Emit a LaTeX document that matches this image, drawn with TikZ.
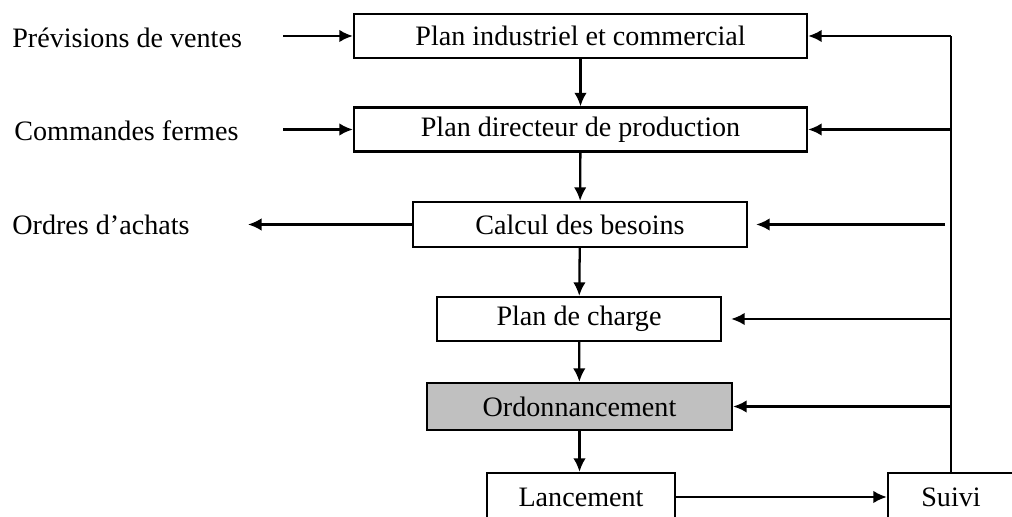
\documentclass[tikz,border=0pt]{standalone}
\usepackage{fontspec}
\setmainfont{Liberation Serif}
\usepackage{xcolor}
\definecolor{ordoFill}{RGB}{192,192,192}
\usepackage{tikz}
\usetikzlibrary{arrows.meta,positioning,calc}
\tikzstyle{etape}=[draw, line width=1.3pt, minimum height=0.88cm, inner sep=0pt, font=\fontsize{16}{18}\selectfont]
\tikzstyle{entree}=[anchor=west, inner sep=0pt, font=\fontsize{16}{18}\selectfont]
\tikzstyle{fleche}=[-{Latex[length=0.27cm,width=0.25cm]}, line width=1.3pt]

\begin{document}
\begin{tikzpicture}
        \clip (0,0) rectangle (20.24,10.34);
        % etapes du plan
        \node[etape, minimum width=9.06cm] (pic) at (11.61,9.62) {Plan industriel et commercial};
        \node[etape, minimum width=9.06cm] (pdp) at (11.61,7.75) {Plan directeur de production};
        \node[etape, minimum width=6.68cm, minimum height=0.9cm] (cbn) at (11.60,5.85) {Calcul des besoins};
        \node[etape, minimum width=5.68cm] (charge) at (11.58,3.96) {Plan de charge};
        \node[etape, fill=ordoFill, minimum width=6.1cm, minimum height=0.94cm]
          (ordo) at (11.59,2.21) {Ordonnancement};
        \node[etape, minimum width=3.76cm, minimum height=0.96cm] (lance) at (11.62,0.40) {Lancement};
        \node[etape, minimum width=2.52cm, minimum height=0.96cm] (suivi) at (19.02,0.40) {Suivi};
        % entrees et sorties
        \node[entree] (prev) at (0.24,9.58) {Prévisions de ventes};
        \node[entree] (cmd) at (0.28,7.72) {Commandes fermes};
        \node[entree] (achats) at (0.24,5.84) {Ordres d’achats};
        \coordinate (prevA) at (5.66,9.62);
        \coordinate (cmdA) at (5.66,7.75);
        \coordinate (achatsA) at (4.96,5.85);
        \draw[fleche] (prevA) -- (pic.west);
        \draw[fleche] (cmdA) -- (pdp.west);
        \draw[fleche] (cbn.west) -- (achatsA);
        % enchainement
        \draw[fleche] (pic) -- (pdp);
        \draw[fleche] (pdp) -- (cbn);
        \draw[fleche] (cbn) -- (charge);
        \draw[fleche] (charge) -- (ordo);
        \draw[fleche] (ordo) -- (lance.north -| ordo.south);
        \draw[fleche] (lance) -- (suivi);
        % retour du suivi
        \draw[line width=1.3pt] (suivi.north) -- (suivi.north |- pic.east);
        \draw[fleche] (suivi.north |- pic.east) -- (pic.east);
        \draw[fleche] (suivi.north |- pdp.east) -- (pdp.east);
        \draw[fleche, shorten <=0.12cm, shorten >=0.16cm] (suivi.north |- cbn.east) -- (cbn.east);
        \draw[fleche, shorten >=0.18cm] (suivi.north |- charge.east) -- (charge.east);
        \draw[fleche] (suivi.north |- ordo.east) -- (ordo.east);
      \end{tikzpicture}
\end{document}
